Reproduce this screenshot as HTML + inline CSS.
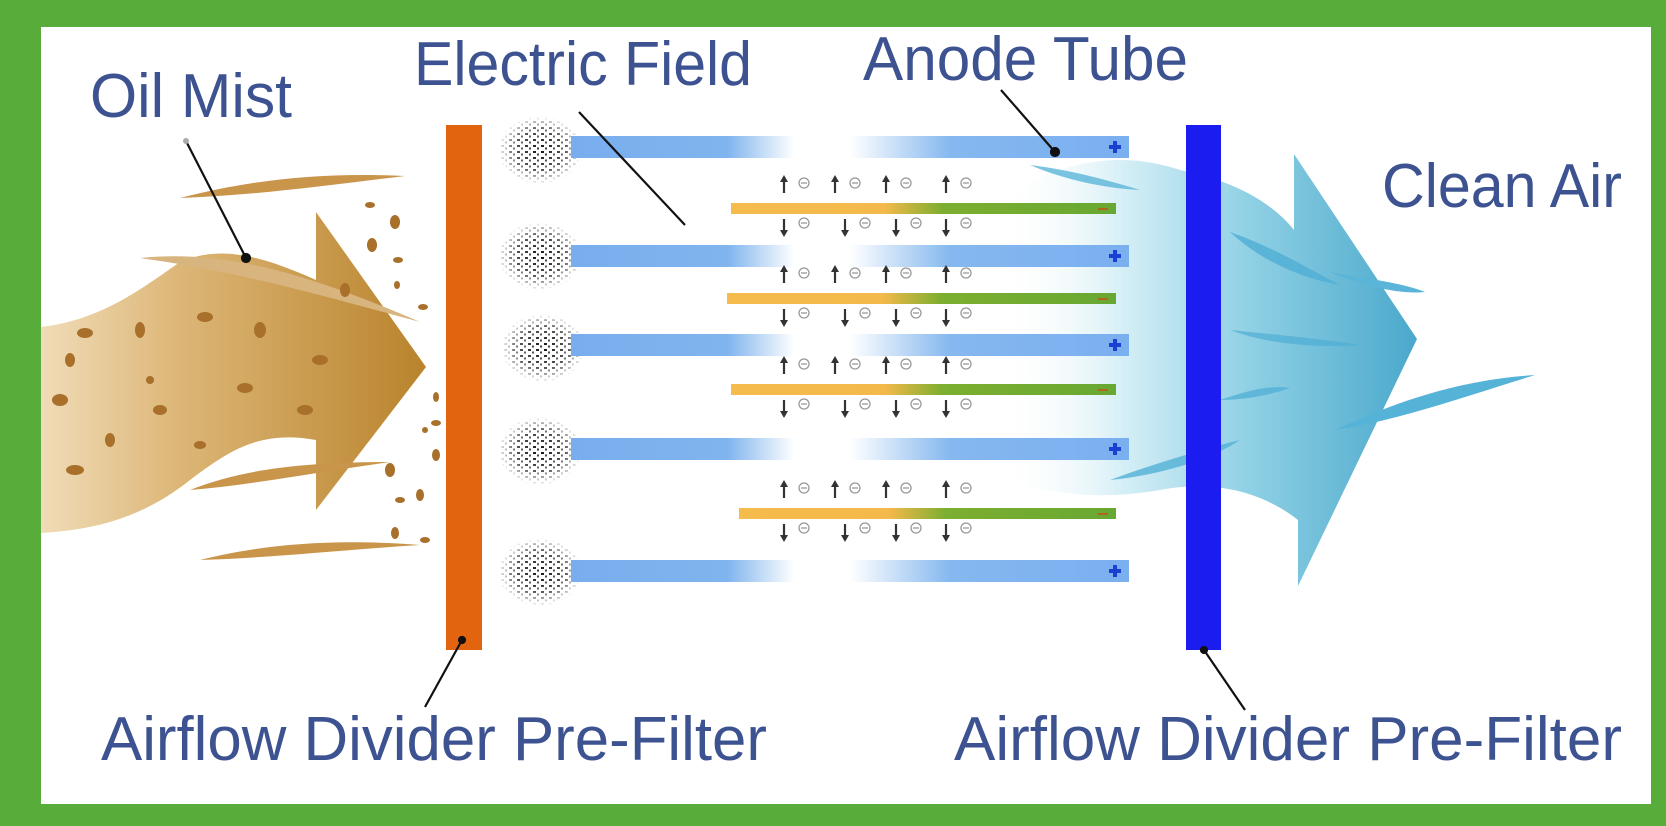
<!DOCTYPE html>
<html><head><meta charset="utf-8"><style>
html,body{margin:0;padding:0;background:#fff}
svg{display:block}
text{font-family:"Liberation Sans",sans-serif;fill:#3d5290}
</style></head><body>
<svg width="1666" height="826" viewBox="0 0 1666 826" xmlns="http://www.w3.org/2000/svg">
<defs>
<linearGradient id="brown" x1="0" x2="1" y1="0" y2="0">
<stop offset="0" stop-color="#f0dcb8"/><stop offset="0.35" stop-color="#ddb778"/><stop offset="1" stop-color="#b9832c"/>
</linearGradient>
<linearGradient id="blueair" x1="0" x2="1">
<stop offset="0" stop-color="#ffffff" stop-opacity="0"/><stop offset="0.3" stop-color="#d4eef6"/><stop offset="0.6" stop-color="#8fd0e4"/><stop offset="1" stop-color="#4aa8cc"/>
</linearGradient>
<linearGradient id="tube" x1="571" x2="1129" gradientUnits="userSpaceOnUse">
<stop offset="0" stop-color="#78aeee"/><stop offset="0.28" stop-color="#80b4ee"/><stop offset="0.4" stop-color="#ffffff"/><stop offset="0.5" stop-color="#ffffff"/><stop offset="0.68" stop-color="#85b8ef"/><stop offset="1" stop-color="#7aaff0"/>
</linearGradient>
<linearGradient id="cath" x1="0" x2="1">
<stop offset="0" stop-color="#f5bb4c"/><stop offset="0.4" stop-color="#f3b94a"/><stop offset="0.55" stop-color="#7cae30"/><stop offset="1" stop-color="#68a832"/>
</linearGradient>
<pattern id="dust" width="8" height="6" patternUnits="userSpaceOnUse">
<rect x="1" y="1" width="3" height="2" fill="#111"/><rect x="5" y="3.5" width="2" height="2" fill="#333"/>
</pattern>
<radialGradient id="dfade"><stop offset="0" stop-color="#fff" stop-opacity="1"/><stop offset="0.6" stop-color="#fff" stop-opacity="0.7"/><stop offset="1" stop-color="#fff" stop-opacity="0"/></radialGradient>
<mask id="dm"><ellipse cx="0" cy="0" rx="42" ry="34" fill="url(#dfade)"/></mask>
</defs>
<rect width="1666" height="826" fill="#58ad3a"/>
<rect x="41" y="27" width="1610" height="777" fill="#ffffff"/>

<path d="M41,327 C100,320 140,290 180,262 C220,245 260,255 316,280 L316,212 L426,367 L316,510 L316,440 C260,430 230,450 190,480 C140,520 90,530 41,533 Z" fill="url(#brown)"/>
<path d="M180,198 C250,180 320,172 405,176 C330,185 260,195 180,198Z" fill="#c9954a"/>
<path d="M140,258 C220,250 300,270 420,322 C320,295 240,272 140,258Z" fill="#d8b47e"/>
<path d="M190,490 C240,470 300,462 390,462 C300,475 250,485 190,490Z" fill="#c9954a"/>
<path d="M200,560 C260,545 330,538 420,545 C340,550 270,558 200,560Z" fill="#c9954a"/>
<g fill="#a8702a">
<ellipse cx="85" cy="333" rx="8" ry="5"/><ellipse cx="70" cy="360" rx="5" ry="7"/><ellipse cx="140" cy="330" rx="5" ry="8"/>
<ellipse cx="205" cy="317" rx="8" ry="5"/><ellipse cx="260" cy="330" rx="6" ry="8"/><ellipse cx="320" cy="360" rx="8" ry="5"/>
<ellipse cx="245" cy="388" rx="8" ry="5"/><ellipse cx="305" cy="410" rx="8" ry="5"/><ellipse cx="60" cy="400" rx="8" ry="6"/>
<ellipse cx="110" cy="440" rx="5" ry="7"/><ellipse cx="160" cy="410" rx="7" ry="5"/><ellipse cx="200" cy="445" rx="6" ry="4"/>
<ellipse cx="75" cy="470" rx="9" ry="5"/><ellipse cx="150" cy="380" rx="4" ry="4"/><ellipse cx="345" cy="290" rx="5" ry="7"/>
<ellipse cx="370" cy="205" rx="5" ry="3"/><ellipse cx="395" cy="222" rx="5" ry="7"/><ellipse cx="372" cy="245" rx="5" ry="7"/>
<ellipse cx="398" cy="260" rx="5" ry="3"/><ellipse cx="397" cy="285" rx="3" ry="4"/><ellipse cx="423" cy="307" rx="5" ry="3"/>
<ellipse cx="436" cy="397" rx="3" ry="5"/><ellipse cx="436" cy="423" rx="5" ry="3"/><ellipse cx="436" cy="455" rx="4" ry="6"/>
<ellipse cx="390" cy="470" rx="5" ry="7"/><ellipse cx="400" cy="500" rx="5" ry="3"/><ellipse cx="420" cy="495" rx="4" ry="6"/>
<ellipse cx="395" cy="533" rx="4" ry="6"/><ellipse cx="425" cy="540" rx="5" ry="3"/><ellipse cx="425" cy="430" rx="3" ry="3"/>
</g>

<path d="M1000,200 C1060,160 1120,150 1180,170 C1230,180 1270,200 1294,230 L1294,154 L1417,339 L1298,586 L1298,520 C1260,490 1210,480 1160,490 C1100,500 1060,495 1000,480 Z" fill="url(#blueair)"/>
<path d="M1030,165 C1070,170 1100,178 1140,190 C1100,188 1060,178 1030,165Z" fill="#5ab5d8" opacity="0.8"/>
<path d="M1230,232 C1280,250 1310,270 1340,285 C1300,278 1260,260 1230,232Z" fill="#4faed4" opacity="0.8"/>
<path d="M1330,272 C1360,278 1400,282 1425,292 C1400,295 1360,285 1330,272Z" fill="#5ab5d8"/>
<path d="M1230,330 C1280,335 1330,340 1360,345 C1320,348 1270,345 1230,330Z" fill="#4faed4" opacity="0.7"/>
<path d="M1335,430 C1400,400 1460,380 1535,375 C1470,395 1400,420 1335,430Z" fill="#56b3d8"/>
<path d="M1110,480 C1150,465 1200,450 1240,440 C1210,460 1160,475 1110,480Z" fill="#52b0d6" opacity="0.8"/>
<path d="M1220,400 C1250,390 1270,385 1290,388 C1270,395 1245,400 1220,400Z" fill="#52b0d6" opacity="0.8"/>

<rect x="446" y="125" width="36" height="525" fill="#e2640f"/>
<rect x="1186" y="125" width="35" height="525" fill="#1a1cf0"/>

<g>
<g transform="translate(540,150)"><ellipse rx="42" ry="34" fill="url(#dust)" mask="url(#dm)"/></g>
<g transform="translate(540,256)"><ellipse rx="42" ry="34" fill="url(#dust)" mask="url(#dm)"/></g>
<g transform="translate(543,348)"><ellipse rx="42" ry="34" fill="url(#dust)" mask="url(#dm)"/></g>
<g transform="translate(540,451)"><ellipse rx="42" ry="34" fill="url(#dust)" mask="url(#dm)"/></g>
<g transform="translate(540,572)"><ellipse rx="42" ry="34" fill="url(#dust)" mask="url(#dm)"/></g>
</g>

<g fill="url(#tube)">
<rect x="571" y="136" width="558" height="22"/>
<rect x="571" y="245" width="558" height="22"/>
<rect x="571" y="334" width="558" height="22"/>
<rect x="571" y="438" width="558" height="22"/>
<rect x="571" y="560" width="558" height="22"/>
</g>
<g>
<path d="M1109,147h12M1115,141v12" stroke="#1b3fd0" stroke-width="4"/>
<path d="M1109,256h12M1115,250v12" stroke="#1b3fd0" stroke-width="4"/>
<path d="M1109,345h12M1115,339v12" stroke="#1b3fd0" stroke-width="4"/>
<path d="M1109,449h12M1115,443v12" stroke="#1b3fd0" stroke-width="4"/>
<path d="M1109,571h12M1115,565v12" stroke="#1b3fd0" stroke-width="4"/>
</g>

<rect x="731" y="203" width="385" height="11" fill="url(#cath)"/>
<rect x="727" y="293" width="389" height="11" fill="url(#cath)"/>
<rect x="731" y="384" width="385" height="11" fill="url(#cath)"/>
<rect x="739" y="508" width="377" height="11" fill="url(#cath)"/>
<g stroke="#b0661e" stroke-width="2"><path d="M1098,209h10M1098,299h10M1098,390h10M1098,514h10"/></g>

<defs>
<g id="up"><path d="M0,-8v16" stroke="#333" stroke-width="2.2"/><path d="M-4,-3L0,-10L4,-3Z" fill="#333"/><circle cx="20" cy="-2" r="5" fill="none" stroke="#999" stroke-width="1.3"/><path d="M17,-2h6" stroke="#999" stroke-width="1.3"/></g>
<g id="dn"><path d="M0,-8v16" stroke="#333" stroke-width="2.2"/><path d="M-4,3L0,10L4,3Z" fill="#333"/><circle cx="20" cy="-4" r="5" fill="none" stroke="#999" stroke-width="1.3"/><path d="M17,-4h6" stroke="#999" stroke-width="1.3"/></g>
<g id="set">
<use href="#up" x="784" y="-23"/><use href="#up" x="835" y="-23"/><use href="#up" x="886" y="-23"/><use href="#up" x="946" y="-23"/>
<use href="#dn" x="784" y="19"/><use href="#dn" x="845" y="19"/><use href="#dn" x="896" y="19"/><use href="#dn" x="946" y="19"/>
</g>
</defs>
<use href="#set" y="208"/>
<use href="#set" y="298"/>
<use href="#set" y="389"/>
<use href="#set" y="513"/>

<g stroke="#111" stroke-width="2.2" fill="#111">
<line x1="186" y1="141" x2="246" y2="258"/><circle cx="246" cy="258" r="4"/><circle cx="186" cy="141" r="3" fill="#aaa" stroke="none"/>
<line x1="579" y1="112" x2="685" y2="225"/>
<line x1="1001" y1="90" x2="1055" y2="152"/><circle cx="1055" cy="152" r="4"/>
<line x1="462" y1="640" x2="425" y2="707"/><circle cx="462" cy="640" r="3"/>
<line x1="1204" y1="650" x2="1245" y2="710"/><circle cx="1204" cy="650" r="3"/>
</g>

<text x="90" y="117" font-size="62" textLength="202" lengthAdjust="spacingAndGlyphs">Oil Mist</text>
<text x="414" y="85" font-size="62" textLength="338" lengthAdjust="spacingAndGlyphs">Electric Field</text>
<text x="863" y="80" font-size="62" textLength="325" lengthAdjust="spacingAndGlyphs">Anode Tube</text>
<text x="1382" y="207" font-size="62" textLength="240" lengthAdjust="spacingAndGlyphs">Clean Air</text>
<text x="101" y="760" font-size="62" textLength="666" lengthAdjust="spacingAndGlyphs">Airflow Divider Pre-Filter</text>
<text x="954" y="760" font-size="62" textLength="668" lengthAdjust="spacingAndGlyphs">Airflow Divider Pre-Filter</text>
</svg>
</body></html>
